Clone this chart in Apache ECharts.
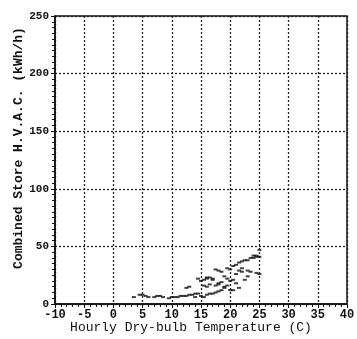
<!DOCTYPE html>
<html><head><meta charset="utf-8">
<script src="https://cdn.jsdelivr.net/npm/echarts@6/dist/echarts.min.js"></script>
<style>html,body{margin:0;padding:0;background:#fff}#c{width:357px;height:339px}</style>
</head><body><div id="c"></div>
<script>
const xTicks = [-10,-5,0,5,10,15,20,25,30,35,40];
const yTicks = [0,50,100,150,200,250];
const temps = [3.5,4.5,5,5.5,6,7,7.5,8,8.5,9.5,10,10.5,11,11.5,12,12.5,13,13.5,14,14.5,
  14,15,15.5,16,16.5,17,17.5,18,18.5,19,19.5,
  12.5,13,14.5,15,15.5,16,16.5,17,15.5,16,16.5,17.5,18,18.5,17.5,18,18.5,19.5,20,19,19.5,20,20.5,20.5,21,21,21.5,20,20.5,
  21.5,22,22.5,23,23.5,24,24.5,25,25,22,23,23.5,24.5,25,22.5,23,21,21.5,22,24,24.5,16,17,18,19];
const loads = [6,8,8,7,6,6,7,7,6,5,6,6,6,7,7,7,8,8,9,9,
  6,7,6,8,9,9,10,11,12,14,16,
  14,15,22,20,21,22,23,22,16,15,17,16,17,19,30,29,28,31,30,24,22,20,21,33,34,18,14,12,12,
  36,37,38,38,40,40,41,41,47,28,29,28,27,26,21,24,26,29,31,42,42,23,21,18,15];
const pts = temps.map((t,i)=>[t,loads[i]]);
const font = '"Liberation Mono", "DejaVu Sans Mono", monospace';
const chart = echarts.init(document.getElementById('c'));
chart.setOption({
  animation:false,
  grid:{left:55,right:10,top:16,bottom:35,outerBoundsMode:'none',containLabel:false,show:true,borderColor:'#111',borderWidth:1.5,backgroundColor:'transparent'},
  xAxis:{type:'value',min:xTicks[0],max:xTicks[xTicks.length-1],interval:5,
    name:'Hourly Dry-bulb Temperature (C)',nameLocation:'middle',nameGap:17,nameMoveOverlap:false,
    nameTextStyle:{fontFamily:font,fontSize:13,color:'#111',padding:[0,20,0,0]},
    axisLine:{onZero:false,lineStyle:{color:'#111',width:1.5}},
    axisTick:{show:true,inside:false,length:4,lineStyle:{color:'#111'}},
    minorTick:{show:true,splitNumber:5,length:3,lineStyle:{color:'#111'}},
    axisLabel:{fontFamily:font,fontSize:12,fontWeight:'bold',color:'#111',margin:5},
    splitLine:{show:true,lineStyle:{type:[2,2],color:'#222',width:1.3}}},
  yAxis:{type:'value',min:yTicks[0],max:yTicks[yTicks.length-1],interval:50,
    name:'Combined Store H.V.A.C. (kWh/h)',nameLocation:'middle',nameGap:30,nameMoveOverlap:false,
    nameTextStyle:{fontFamily:font,fontSize:13,fontWeight:'bold',color:'#111',padding:[0,0,0,24]},
    axisLine:{onZero:false,lineStyle:{color:'#111',width:1.5}},
    axisTick:{show:true,inside:false,length:4,lineStyle:{color:'#111'}},
    minorTick:{show:true,splitNumber:10,length:3,lineStyle:{color:'#111'}},
    axisLabel:{fontFamily:font,fontSize:11,fontWeight:'bold',color:'#111',margin:6},
    splitLine:{show:true,lineStyle:{type:[2,2],color:'#222',width:1.3}}},
  series:[{type:'scatter',data:pts,symbol:'rect',symbolSize:[4,2],itemStyle:{color:'#111'}}]
});
</script></body></html>
